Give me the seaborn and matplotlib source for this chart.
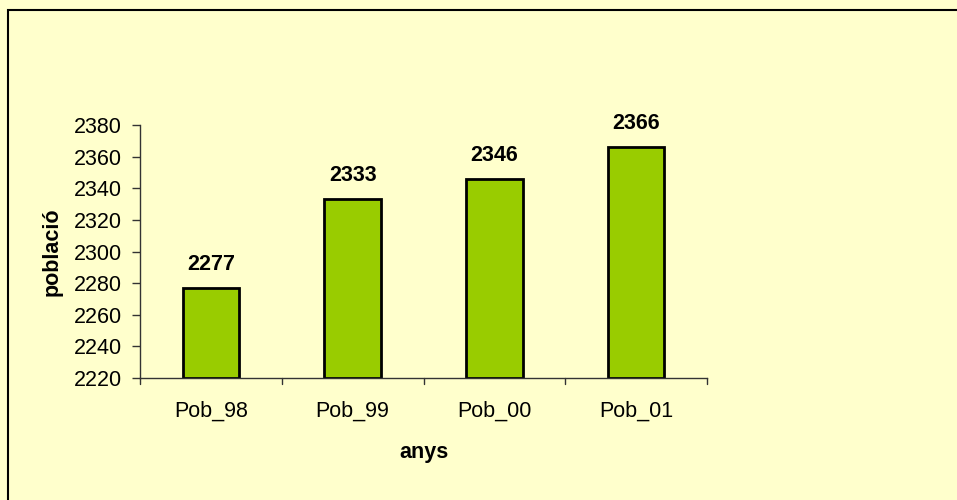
import matplotlib
matplotlib.use("Agg")
import matplotlib.pyplot as plt
import seaborn as sns
import pandas as pd
from matplotlib.patches import Rectangle

categories = ["Pob_98", "Pob_99", "Pob_00", "Pob_01"]
values = [2277, 2333, 2346, 2366]
yticks = [2220, 2240, 2260, 2280, 2300, 2320, 2340, 2360, 2380]

sns.set_style("white")
plt.rcParams['font.family'] = ['Liberation Sans', 'DejaVu Sans']
plt.rcParams['text.color'] = 'black'
plt.rcParams['axes.labelcolor'] = 'black'
plt.rcParams['xtick.color'] = 'black'
plt.rcParams['ytick.color'] = 'black'

FS = 15.5
bg = "#FFFFCC"
fig = plt.figure(figsize=(9.57, 5.0), dpi=100, facecolor=bg)
ax = fig.add_axes([140/957, 1-378/500, (707-140)/957, (378-125)/500])
ax.set_facecolor(bg)

df = pd.DataFrame({"cat": categories, "val": values})
sns.barplot(data=df, x="cat", y="val", color="#99CC00", width=0.4,
            edgecolor="black", linewidth=2, saturation=1, ax=ax)
for p, v in zip(ax.patches, values):
    p.set_y(2220)
    p.set_height(v - 2220)

ax.set_ylim(2220, 2380)
ax.set_xlim(-0.5, 3.5)
ax.set_yticks(yticks)
ax.set_yticklabels([str(t) for t in yticks], fontsize=FS)
ax.set_xticks(range(len(categories)))
ax.set_xticklabels(categories, fontsize=FS)
ax.tick_params(axis='x', length=0, pad=16)
ax.tick_params(axis='y', length=6, width=1, color="#333333", pad=7, direction='out', left=True)
for b in [0.5 + i for i in range(-1, 4)]:
    ax.plot([b, b], [0, -0.025], transform=ax.get_xaxis_transform(), color="#333333",
            lw=1, clip_on=False)

for s in ["top", "right"]:
    ax.spines[s].set_visible(False)
for s in ["left", "bottom"]:
    ax.spines[s].set_color("#333333")
    ax.spines[s].set_linewidth(1)

for i, v in enumerate(values):
    ax.annotate(str(v), xy=(i, v), xytext=(0, 17), textcoords="offset points",
                ha="center", va="center", fontsize=FS, fontweight="bold", color="black")

ax.set_xlabel("anys", fontsize=FS, fontweight="bold", labelpad=15)
ax.set_ylabel("població", fontsize=FS, fontweight="bold", labelpad=8)

fig.patches.append(Rectangle((8/957, -0.1), 1.2, (500-10)/500 + 0.1, transform=fig.transFigure,
                             fill=False, edgecolor="black", linewidth=1.5))

fig.savefig("out.png", dpi=100, facecolor=bg)
